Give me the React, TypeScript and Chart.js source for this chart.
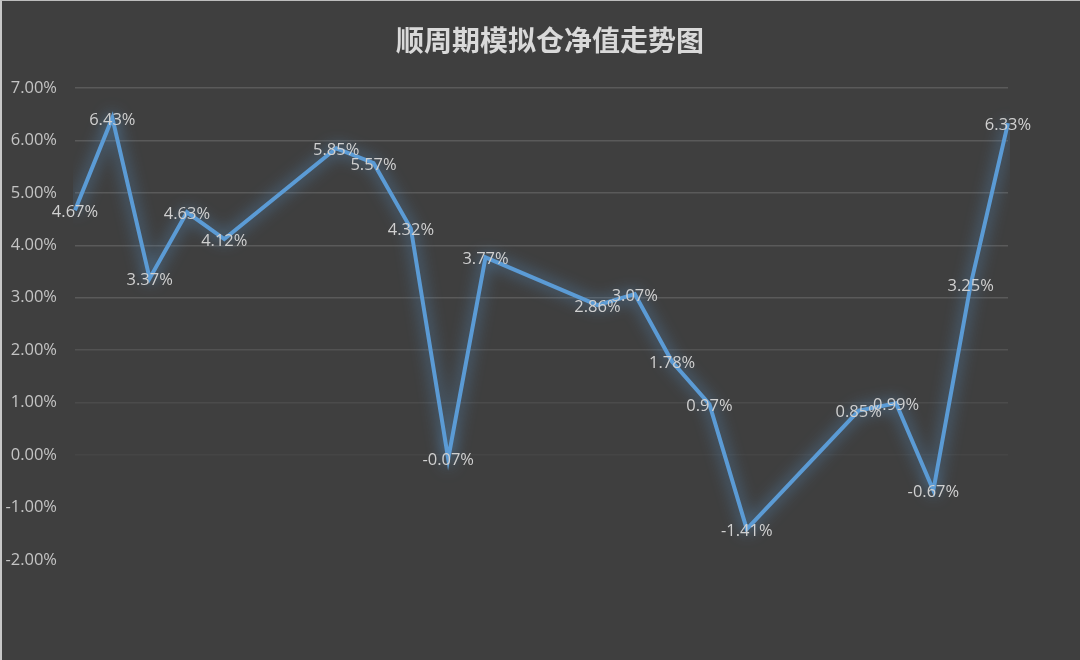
import Chart from "chart.js/auto";
import type { Plugin } from "chart.js";
import { useEffect, useRef } from "react";

const title = "顺周期模拟仓净值走势图";

// trading days; weekend slots left empty so the line spans them
const days = [
  "D1", "D2", "D3", "D4", "D5", "D6", "D7", "D8", "D9", "D10",
  "D11", "D12", "D13", "D14", "D15", "D16", "D17", "D18", "D19", "D20",
  "D21", "D22", "D23", "D24", "D25", "D26",
];

const netValue: (number | null)[] = [
  4.67, 6.43, 3.37, 4.63, 4.12, null, null, 5.85, 5.57, 4.32,
  -0.07, 3.77, null, null, 2.86, 3.07, 1.78, 0.97, -1.41, null,
  null, 0.85, 0.99, -0.67, 3.25, 6.33,
];

const yMin = -2;
const yMax = 7;

const glow: Plugin<"line"> = {
  id: "glow",
  beforeDatasetDraw(chart) {
    const ctx = chart.ctx;
    ctx.save();
    ctx.shadowColor = "rgba(91,155,213,0.95)";
    ctx.shadowBlur = 16;
  },
  afterDatasetDraw(chart) {
    chart.ctx.restore();
  },
};

const labels: Plugin<"line"> = {
  id: "pointLabels",
  afterDatasetsDraw(chart) {
    const ctx = chart.ctx;
    const meta = chart.getDatasetMeta(0);
    ctx.save();
    ctx.font = "16.5px 'Open Sans', sans-serif";
    ctx.fillStyle = "#d0d0d0";
    ctx.textAlign = "center";
    ctx.textBaseline = "middle";
    meta.data.forEach((pt, i) => {
      const v = netValue[i];
      if (v === null) return;
      ctx.fillText(v.toFixed(2) + "%", pt.x, pt.y + 2);
    });
    ctx.restore();
  },
};

const titlePlugin: Plugin<"line"> = {
  id: "topTitle",
  afterDraw(chart) {
    const ctx = chart.ctx;
    ctx.save();
    ctx.font = "bold 28px 'Noto Sans CJK SC', sans-serif";
    ctx.fillStyle = "#d9d9d9";
    ctx.textAlign = "center";
    ctx.textBaseline = "middle";
    ctx.fillText(title, 548, 39);
    ctx.restore();
  },
};

function gridColor(v: number) {
  if (v >= 3) return "rgba(255,255,255,0.14)";
  if (v >= 2) return "rgba(255,255,255,0.1)";
  if (v >= 1) return "rgba(255,255,255,0.065)";
  if (v >= 0) return "rgba(255,255,255,0.035)";
  return "rgba(0,0,0,0)";
}

export default function App() {
  const chartRef = useRef<HTMLCanvasElement | null>(null);

  useEffect(() => {
    document.body.style.margin = "0";
    if (chartRef.current) {
      const ctx = chartRef.current.getContext("2d");
      if (ctx) {
        const chart = new Chart(ctx, {
          type: "line",
          data: {
            labels: days,
            datasets: [
              {
                label: title,
                data: netValue,
                borderColor: "#5b9bd5",
                borderWidth: 4,
                pointRadius: 0,
                spanGaps: true,
                tension: 0,
                fill: false,
              },
            ],
          },
          options: {
            animation: false,
            responsive: false,
            devicePixelRatio: 1,
            layout: { padding: { top: 87, bottom: 100, right: 72, left: 0 } },
            plugins: {
              legend: { display: false },
              tooltip: { enabled: false },
              title: { display: false },
            },
            scales: {
              x: { display: false, offset: false },
              y: {
                min: yMin,
                max: yMax,
                afterFit: (s) => {
                  s.width = 73;
                },
                border: { display: false },
                grid: {
                  drawTicks: false,
                  color: (c) => gridColor(c.tick ? c.tick.value : -9),
                  lineWidth: 1.5,
                },
                ticks: {
                  stepSize: 1,
                  padding: 18,
                  color: "#c4c4c4",
                  font: { family: "'Open Sans', sans-serif", size: 16.5 },
                  callback: (v) => Number(v).toFixed(2) + "%",
                },
              },
            },
          },
          plugins: [glow, labels, titlePlugin],
        });
        return () => chart.destroy();
      }
    }
  }, []);

  return (
    <div
      style={{
        width: 1078,
        height: 659,
        background: "#3f3f3f",
        borderLeft: "2px solid #c8c8c8",
        borderTop: "1px solid #bdbdbd",
      }}
    >
      <canvas ref={chartRef} width={1078} height={659} />
    </div>
  );
}
